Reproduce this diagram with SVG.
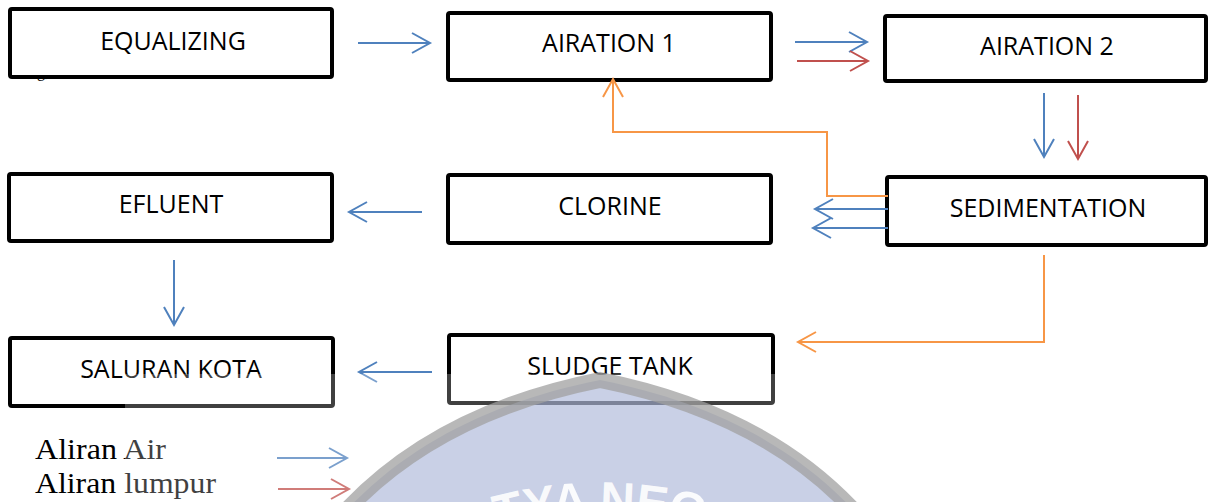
<svg xmlns="http://www.w3.org/2000/svg" width="1210" height="502" viewBox="0 0 1210 502">
<defs>
<style>
.box{fill:#fff;stroke:#000;stroke-width:4}
.lbl{font-family:"Open Sans","Liberation Sans",sans-serif;font-size:25px;fill:#000;text-anchor:middle}
.c{fill:none;stroke-width:2}
.b{stroke:#4f81bd}
.r{stroke:#c0504d}
.o{stroke:#f79646}
.leg{font-family:"Liberation Serif","Times New Roman",serif;font-size:29px;fill:#000}
</style>
<marker id="ab" markerUnits="userSpaceOnUse" markerWidth="20" markerHeight="22" refX="18" refY="10" orient="auto" overflow="visible"><path d="M0,0 L18,10 L0,20" fill="none" stroke="#4f81bd" stroke-width="2"/></marker>
<marker id="ar" markerUnits="userSpaceOnUse" markerWidth="20" markerHeight="22" refX="18" refY="10" orient="auto" overflow="visible"><path d="M0,0 L18,10 L0,20" fill="none" stroke="#c0504d" stroke-width="2"/></marker>
<marker id="ao" markerUnits="userSpaceOnUse" markerWidth="20" markerHeight="22" refX="18" refY="10" orient="auto" overflow="visible"><path d="M0,0 L18,10 L0,20" fill="none" stroke="#f79646" stroke-width="2"/></marker>
<path id="wmArc" d="M380,585 A383,383 0 0 1 820,585"/>
</defs>
<rect width="1210" height="502" fill="#fff"/>
<text x="37" y="77" font-family="Liberation Serif,serif" font-size="16" fill="#000">g,</text>
<g id="equalizing"><rect class="box" x="10" y="9" width="322" height="68" rx="2"/><text class="lbl" x="173" y="50">EQUALIZING</text></g>
<g id="airation1"><rect class="box" x="448" y="13" width="323" height="67" rx="2"/><text class="lbl" x="609" y="52">AIRATION 1</text></g>
<g id="airation2"><rect class="box" x="885" y="16" width="321" height="65" rx="2"/><text class="lbl" x="1047" y="55">AIRATION 2</text></g>
<g id="sedimentation"><rect class="box" x="887" y="177" width="319" height="68" rx="2"/><text class="lbl" x="1048" y="217">SEDIMENTATION</text></g>
<g id="clorine"><rect class="box" x="448" y="175" width="323" height="68" rx="2"/><text class="lbl" x="610" y="215">CLORINE</text></g>
<g id="efluent"><rect class="box" x="9" y="174" width="323" height="67" rx="2"/><text class="lbl" x="171" y="213">EFLUENT</text></g>
<g id="saluran-kota"><rect class="box" x="10" y="338" width="323" height="68" rx="2"/><text class="lbl" x="171" y="378">SALURAN KOTA</text></g>
<g id="sludge-tank"><rect class="box" x="449" y="335" width="324" height="68" rx="2"/><text class="lbl" x="610" y="375">SLUDGE TANK</text></g>
<g id="connectors">
<line class="c b" x1="358" y1="43" x2="430" y2="43" marker-end="url(#ab)"/>
<line class="c b" x1="795" y1="42" x2="867" y2="42" marker-end="url(#ab)"/>
<line class="c r" x1="797" y1="61" x2="868" y2="61" marker-end="url(#ar)"/>
<line class="c b" x1="1044" y1="93" x2="1044" y2="157" marker-end="url(#ab)"/>
<line class="c r" x1="1078" y1="95" x2="1078" y2="159" marker-end="url(#ar)"/>
<polyline class="c o" points="888,196 827,196 827,132 613,132 613,79" marker-end="url(#ao)"/>
<line class="c b" x1="888" y1="209" x2="815" y2="209" marker-end="url(#ab)"/>
<line class="c b" x1="888" y1="228" x2="813" y2="228" marker-end="url(#ab)"/>
<line class="c b" x1="422" y1="212" x2="349" y2="212" marker-end="url(#ab)"/>
<line class="c b" x1="174" y1="260" x2="174" y2="325" marker-end="url(#ab)"/>
<polyline class="c o" points="1044,255 1044,342 798,342" marker-end="url(#ao)"/>
<line class="c b" x1="432" y1="372" x2="359" y2="372" marker-end="url(#ab)"/>
</g>
<g id="legend">
<text class="leg" x="35" y="459" textLength="131" lengthAdjust="spacingAndGlyphs">Aliran Air</text>
<text class="leg" x="35" y="493" textLength="181" lengthAdjust="spacingAndGlyphs">Aliran lumpur</text>
<line class="c b" x1="277" y1="458" x2="347" y2="458" marker-end="url(#ab)"/>
<line class="c r" x1="278" y1="489" x2="349" y2="489" marker-end="url(#ar)"/>
</g>
<g id="watermark">
<rect x="125" y="374" width="950" height="128" fill="#fff" opacity="0.25"/>
<path d="M342,515 C410,440 500,400 600,380 C700,400 790,440 858,515 Z" fill="#a5b1d5" fill-opacity="0.6" stroke="#a0a0a0" stroke-opacity="0.75" stroke-width="16"/>
<text font-family="Liberation Sans,sans-serif" font-weight="bold" font-size="48" fill="#fff" fill-opacity="0.9" text-anchor="middle"><textPath href="#wmArc" startOffset="50%">TYA NEG</textPath></text>
</g>
</svg>
